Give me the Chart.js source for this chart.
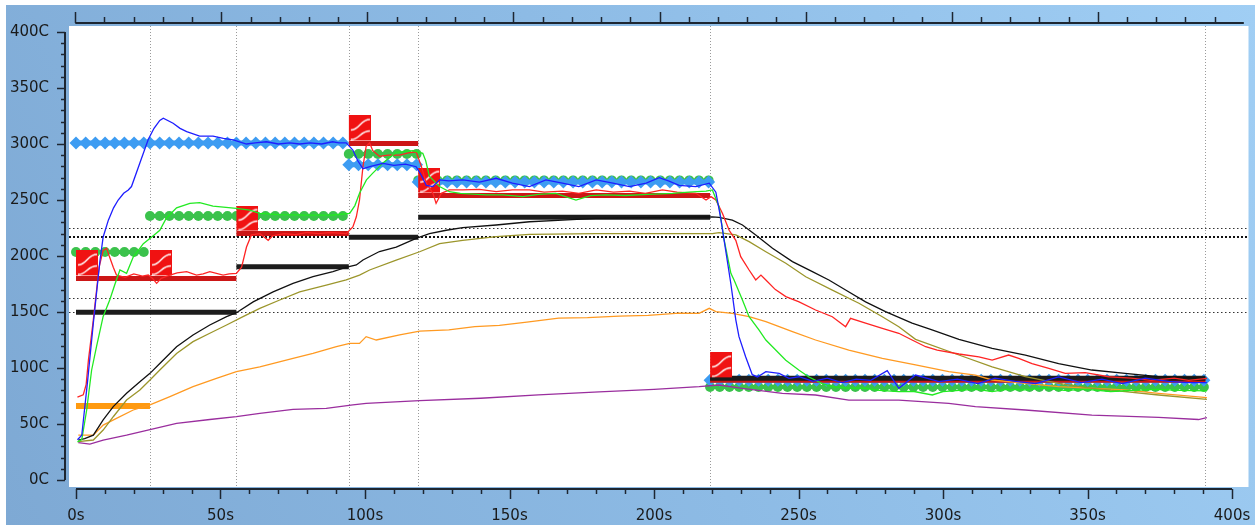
<!DOCTYPE html>
<html>
<head>
<meta charset="utf-8">
<script src="https://cdn.jsdelivr.net/npm/chart.js@4.4.1/dist/chart.umd.min.js"></script>
<style>
  html, body { margin: 0; padding: 0; background: #fff; }
  canvas { display: block; }
</style>
</head>
<body>
<canvas id="profile" width="1255" height="525"></canvas>
<script>
// zone borders (s) and setpoints per channel (C)
const zoneBounds = [0, 25.6, 55.5, 94.4, 118.4, 219.4, 390.8];
const redSet    = [180, 180, 220, 300.5, 254, 89];
const blackSet  = [149.7, 149.7, 190.5, 216.7, 234.5, 90.8];
const blueSet   = [301, 301, 301, 281.5, 266, 89];
const greenSet  = [203.5, 235.7, 235.7, 291, 267.5, 83];
const orangeSet = [66, null, null, null, null, null];
const markStep = 3.35;

// dotted limit lines (C)
const limitLines = [150, 162.5, 225];
const liquidusLine = 217;

// axis ticks
const xTicks = [0, 50, 100, 150, 200, 250, 300, 350, 400];
const yTicks = [0, 50, 100, 150, 200, 250, 300, 350, 400];

// measured curves
const blueT = [0.5, 2, 4, 6, 8.3, 9.4, 11.2, 13, 14.6, 16.5, 18.1, 19.2, 22.1, 25, 27, 29, 30.2, 33.6, 36, 38.3, 42.8, 47.4, 51, 54.4, 59, 62, 65.9, 70, 74, 77.4, 81, 85, 88.8, 91, 93.5, 95.8, 97.5, 99.3, 102, 106.2, 110, 114, 117.7, 119.5, 121.2, 123.5, 125.8, 129, 133.8, 139.6, 145.4, 151, 156.9, 162.6, 168.3, 174, 180, 185.8, 191.5, 197.3, 201.8, 205, 208.7, 214.5, 219.1, 221.4, 223, 224.8, 226.6, 228.3, 229.4, 231.7, 234, 235.8, 238.7, 243.3, 246.7, 250.2, 255, 260, 265, 270, 275, 280.7, 284.7, 290.5, 298.6, 305, 312, 318, 325, 332, 340, 348, 355, 362, 370, 378, 385, 391.3];
const blueC = [36, 40, 88, 140, 196, 217, 232, 243, 250, 256, 259, 262, 283, 304, 314, 321, 323, 318.5, 314, 311, 307, 307, 305, 303.6, 300, 301, 302, 300, 301, 300, 301, 300, 302, 301, 301, 294.6, 285, 278, 280, 282.7, 281, 282, 279.7, 272, 263, 262, 268, 267, 268, 266, 269.4, 265, 262, 268, 265, 262, 268, 265, 262, 265, 270, 267, 263, 262, 265, 257, 235, 205, 175, 143, 128, 110, 94, 92, 96.7, 95.2, 90.8, 92.2, 88, 91, 87, 90, 89, 97.6, 81.9, 93.7, 87.8, 90, 86, 91, 88, 86, 92, 87, 90, 86, 91, 88, 86.9, 87];

const greenT = [0.5, 2, 3.7, 5.4, 7.1, 9.4, 11.7, 13.5, 15.2, 17.5, 19.8, 23.3, 26.2, 29, 31.3, 34.8, 39.4, 42.8, 47.4, 55.5, 60.1, 63.6, 70, 80, 88.9, 94.7, 96.5, 98.1, 100.5, 102.7, 106.2, 110.8, 116.6, 120, 121, 122.3, 125.8, 129.2, 133, 141.9, 147.7, 154.6, 160, 166, 173, 178, 183.4, 190, 198, 206.4, 212, 218, 220.2, 222.5, 224.3, 226.6, 227.7, 230.6, 232.9, 236.3, 238.7, 241, 245.6, 250.2, 253.6, 258.2, 261.7, 267, 273.2, 278, 284.7, 290, 296.3, 300, 307.8, 312, 317, 322, 328.5, 335, 342, 350, 358, 366, 374, 382, 391.3];
const greenC = [34, 36, 62.5, 98, 119, 146, 161, 175, 187.5, 184.5, 199, 211, 217, 223, 234, 243, 247, 247.6, 244.6, 242.6, 241, 238, 237, 236.5, 236.6, 238, 245, 256, 268, 274, 283, 292.6, 294, 291.7, 285, 271, 262, 257.4, 256, 254.5, 254.5, 253, 255, 256, 250, 254, 254.5, 254, 255, 256, 257, 258, 259, 244, 214, 184.5, 178.6, 160.7, 145.8, 134, 125, 119, 107, 98, 92, 86, 83.3, 82, 81.9, 80, 78.9, 79, 75.9, 79, 80.4, 81, 78.9, 81, 80.4, 82, 80, 81, 79, 80, 81, 80, 79.5];

const redT = [0.5, 2.5, 3.5, 4.3, 6, 8, 9.4, 10.6, 11.5, 12.9, 14, 17, 20, 23, 25, 26.5, 27.9, 29.5, 32.5, 35, 38.3, 41.7, 44, 46.3, 50.9, 53, 55.5, 57.3, 59, 60.7, 63.6, 66.5, 68, 72, 76, 80, 84, 88, 93.5, 95.8, 97, 98.1, 99.3, 100.4, 101.6, 102.7, 105, 108, 112, 115, 117.7, 119.5, 121.2, 123.5, 124.6, 126.4, 129.2, 133.8, 139.6, 145.4, 151, 156.9, 162, 168.3, 174, 180, 186, 191.5, 197, 202.9, 208, 214.5, 218, 219.7, 221.4, 223.7, 226, 228.3, 230, 232.9, 235.2, 237, 238.7, 242, 245.6, 250.2, 255.9, 261.7, 266.3, 268, 273.2, 279, 284.7, 289.3, 294, 298, 305.5, 312.4, 317, 322.7, 326.2, 330.8, 336.6, 342.3, 349.2, 357.3, 365, 372, 380, 385, 391.3];
const redC = [74, 76, 85, 107, 143, 190, 205, 207, 200, 190, 183, 181, 184, 182, 183, 180, 175.6, 180, 183, 185, 186, 183, 184, 186, 183, 184, 184.5, 190, 208, 218.8, 220, 214, 218, 220, 219, 221, 220, 221, 220, 226, 235, 250, 280, 298, 301, 294, 289, 290, 290, 292, 293, 280, 265, 256, 247, 256, 259, 259, 259.5, 257.4, 259, 259, 257, 258, 256, 259, 257, 258, 256, 259, 257, 256, 250, 253, 250, 238, 223, 214, 199.4, 187.5, 178.6, 183, 178.6, 170, 163.7, 159, 151.8, 145.8, 136.9, 144.3, 140, 135.4, 131, 125, 119, 116, 112.5, 110, 107, 111.6, 108.6, 104, 99.7, 95.2, 95.8, 92.2, 91, 89, 91, 89, 90.8];

const blackT = [0.8, 3, 6, 9.4, 12.9, 17.5, 22.1, 25.6, 29, 34.8, 40.5, 46.3, 52.1, 55.5, 61.3, 68.2, 75.1, 82, 88.9, 94.1, 97, 99.3, 105, 110.8, 117.7, 122.3, 128.1, 133.8, 145.4, 156.9, 168.4, 179.9, 203, 220.2, 222.5, 227.1, 230.6, 235.2, 241, 247.9, 254.8, 260.5, 266.3, 273.2, 280.1, 289.3, 296.2, 305.5, 317, 328.5, 340, 351.5, 363, 374.6, 391.3];
const blackC = [35.7, 37, 40, 53.6, 65.5, 77.4, 87.8, 95.2, 104, 119, 129.5, 138.4, 145.8, 149.4, 159, 168, 175.6, 181.5, 186, 190.4, 192, 196.4, 204, 208, 215.8, 220, 223, 225.3, 227.7, 230.6, 232, 233.6, 234.5, 235, 234.5, 232, 227.7, 218.8, 206.9, 195, 186, 178.6, 169.6, 159, 150.3, 140, 134, 125.6, 117.6, 111.6, 104, 98.2, 95.2, 92.2, 90.8];

const oliveT = [0.8, 6, 9.4, 12.9, 17.5, 22.1, 25.6, 29, 34.8, 40.5, 46.3, 52.1, 57.8, 63.6, 70.5, 77.4, 86.6, 93.5, 98.1, 101.6, 110.8, 118.9, 125.8, 133.8, 145.4, 156.9, 180, 220.2, 222.5, 228.3, 232.9, 238.7, 245.6, 252.5, 261.7, 270.9, 279, 284.7, 290.5, 305.5, 317, 328.5, 340, 351.5, 363, 374.6, 391.3];
const oliveC = [34.2, 35.7, 44.6, 56.5, 71.4, 80.4, 89.3, 98.2, 113, 123.5, 131, 138.4, 145.8, 153.3, 160.7, 168, 174, 178.6, 183, 187.5, 196.4, 203.8, 211, 214, 217.3, 219.3, 220, 220, 220.8, 218.8, 212.8, 203.8, 193.5, 181.5, 169.6, 157.8, 145.8, 136.9, 125.6, 111.6, 101, 92.2, 86.3, 81.9, 78.9, 75.9, 72];

const orangeT = [0.8, 6, 9.4, 14, 19.8, 25.6, 32.5, 40.5, 48.6, 55.5, 63.6, 75.1, 82, 90.1, 94.7, 98.1, 100.4, 103.9, 112, 118.9, 129, 138, 146.5, 156, 167, 177, 188, 198, 208.7, 215.6, 219.1, 221.4, 227.1, 232.9, 238.7, 247.9, 255.9, 267.4, 279, 290.5, 302, 311.2, 317, 340, 363, 374.6, 391.3];
const orangeC = [40, 40, 49, 55, 62.5, 67, 74.4, 83.3, 90.8, 96.7, 101, 108.6, 113, 119, 122, 122, 128, 125, 129.5, 133, 134, 137, 138, 141, 144.6, 145, 146.4, 147, 149, 148.8, 153.3, 150.3, 148.8, 145.8, 141.4, 132.4, 125, 116, 108.6, 102.7, 96.7, 93.7, 89.3, 83.3, 80.4, 77.4, 73.5];

const purpleT = [0.8, 4.8, 9.4, 17.5, 25.6, 34.8, 46.3, 55.5, 63.6, 75.1, 86.6, 95.8, 100.4, 118.9, 140, 160, 181, 200, 215.6, 222.5, 230.6, 244.4, 255.9, 267.4, 284.7, 302, 311.2, 328.5, 351.5, 374.6, 388.4, 391.3];
const purpleC = [33.3, 32, 35.7, 40, 45, 50.6, 54, 56.5, 59.5, 63, 64, 67, 68.5, 70.8, 73, 76, 78.6, 81, 83.3, 84.8, 81.9, 77.4, 75.9, 71.4, 71.4, 68.5, 65.5, 62.5, 58, 56, 54, 55.6];

const labelFont = { family: 'DejaVu Sans', size: 15 };
const labelColor = '#1a1a1a';

function curve(ts, cs) {
    return ts.map((t, i) => ({ x: t, y: cs[i] }));
}

// one flat segment per zone
function steps(values) {
    const pts = [];
    values.forEach((v, i) => {
        if (v === null) return;
        pts.push({ x: zoneBounds[i], y: v }, { x: zoneBounds[i + 1], y: v }, { x: zoneBounds[i + 1], y: null });
    });
    return pts;
}

// setpoint sampled at the logger interval (for the marker rows)
function samples(values) {
    const pts = [];
    values.forEach((v, i) => {
        if (v === null) return;
        for (let t = zoneBounds[i]; t <= zoneBounds[i + 1] + 0.01; t += markStep) pts.push({ x: t, y: v });
        pts.push({ x: zoneBounds[i + 1], y: null });
    });
    return pts;
}

// red heater badge, its bottom-left corner sits on the point
function makeHeaterIcon() {
    const w = 22, h = 25, lift = 3;
    const c = document.createElement('canvas');
    c.width = w * 2;
    c.height = (h + lift) * 2;
    const g = c.getContext('2d');
    g.fillStyle = '#f01212';
    g.fillRect(w, 0, w, h);
    g.strokeStyle = '#ffffff';
    g.lineWidth = 1.4;
    [[0.58, 0.16], [0.96, 0.62]].forEach(([a, b]) => {
        g.beginPath();
        g.moveTo(w + 2, h * a);
        g.bezierCurveTo(w + w * 0.5, h * a, w + w * 0.5, h * b, w * 2 - 1, h * b);
        g.stroke();
    });
    return c;
}

const thin = (data, color) => ({ data, borderColor: color, borderWidth: 1.3, pointRadius: 0, fill: false });
const bar = (data, color, width) => ({ data, borderColor: color, borderWidth: width, pointRadius: 0, spanGaps: false });
const marks = (data, color, style, r, w) => ({
    data, borderColor: color, borderWidth: w, spanGaps: false,
    pointRadius: r, pointStyle: style, pointBackgroundColor: color, pointBorderWidth: 0
});

const heaterIcon = makeHeaterIcon();

// no label overflow padding, so the plot box is exactly the white area
function fixBox(size, key) {
    return s => {
        s[key] = size;
        s.paddingLeft = 0; s.paddingRight = 0; s.paddingTop = 0; s.paddingBottom = 0;
    };
}

const framePlugin = {
    id: 'frame',
    beforeDraw(chart) {
        const ctx = chart.ctx;
        const { left, top, right, bottom } = chart.chartArea;
        ctx.save();
        ctx.fillStyle = '#ffffff';
        ctx.fillRect(0, 0, chart.width, chart.height);
        const grad = ctx.createLinearGradient(6, chart.height, chart.width, 0);
        grad.addColorStop(0, '#7ea9d4');
        grad.addColorStop(0.5, '#8dbbe5');
        grad.addColorStop(1, '#a0cef4');
        ctx.fillStyle = grad;
        ctx.fillRect(6, 5, chart.width - 6, chart.height - 5);
        ctx.fillStyle = '#ffffff';
        ctx.fillRect(left, top, right - left, bottom - top);
        ctx.restore();
    },
    beforeDatasetsDraw(chart) {
        const ctx = chart.ctx;
        const { left, top, right, bottom } = chart.chartArea;
        const x = chart.scales.x, y = chart.scales.y;
        ctx.save();
        ctx.lineWidth = 1;
        ctx.strokeStyle = '#9a9a9a';
        ctx.setLineDash([1, 2]);
        zoneBounds.slice(1).forEach(t => {
            const px = Math.round(x.getPixelForValue(t)) + 0.5;
            ctx.beginPath(); ctx.moveTo(px, top); ctx.lineTo(px, bottom); ctx.stroke();
        });
        ctx.strokeStyle = '#333';
        ctx.setLineDash([1.5, 2.5]);
        limitLines.forEach(v => {
            const py = Math.round(y.getPixelForValue(v)) + 0.5;
            ctx.beginPath(); ctx.moveTo(left, py); ctx.lineTo(right, py); ctx.stroke();
        });
        ctx.strokeStyle = '#111';
        ctx.lineWidth = 2;
        ctx.setLineDash([2, 2]);
        const py = Math.round(y.getPixelForValue(liquidusLine));
        ctx.beginPath(); ctx.moveTo(left, py); ctx.lineTo(right, py); ctx.stroke();
        ctx.restore();
    },
    afterDraw(chart) {
        const ctx = chart.ctx;
        const { left, top, bottom } = chart.chartArea;
        const x = chart.scales.x, y = chart.scales.y, xt = chart.scales.xTop;
        ctx.save();
        ctx.strokeStyle = '#1d2631';
        // left axis
        const ax = left - 4;
        ctx.lineWidth = 2;
        ctx.beginPath(); ctx.moveTo(ax, y.getPixelForValue(400)); ctx.lineTo(ax, y.getPixelForValue(0)); ctx.stroke();
        ctx.lineWidth = 1.5;
        for (let v = 0; v <= 400; v += 10) {
            const py = Math.round(y.getPixelForValue(v)) + 0.5;
            const len = v % 50 === 0 ? 8 : 4;
            ctx.beginPath(); ctx.moveTo(ax - len, py); ctx.lineTo(ax, py); ctx.stroke();
        }
        // bottom axis
        const ay = bottom + 2;
        ctx.lineWidth = 2;
        ctx.beginPath(); ctx.moveTo(x.getPixelForValue(0), ay); ctx.lineTo(x.getPixelForValue(400), ay); ctx.stroke();
        ctx.lineWidth = 1.5;
        for (let v = 0; v <= 400; v += 10) {
            const px = Math.round(x.getPixelForValue(v)) + 0.5;
            const len = v % 50 === 0 ? 10 : 5;
            ctx.beginPath(); ctx.moveTo(px, ay); ctx.lineTo(px, ay + len); ctx.stroke();
        }
        // top axis
        const ty = top - 3;
        ctx.lineWidth = 2;
        ctx.beginPath(); ctx.moveTo(xt.getPixelForValue(0), ty); ctx.lineTo(xt.getPixelForValue(400), ty); ctx.stroke();
        ctx.lineWidth = 1.5;
        for (let v = 0; v < 400; v += 10) {
            const px = Math.round(xt.getPixelForValue(v)) + 0.5;
            const len = v % 50 === 0 ? 11 : 6;
            ctx.beginPath(); ctx.moveTo(px, ty); ctx.lineTo(px, ty - len); ctx.stroke();
        }
        ctx.restore();
    }
};

const ctx = document.getElementById('profile').getContext('2d');
new Chart(ctx, {
    type: 'line',
    data: {
        datasets: [
            thin(curve(blueT, blueC), '#1e1eff'),
            thin(curve(greenT, greenC), '#22ea22'),
            thin(curve(redT, redC), '#ff2424'),
            thin(curve(blackT, blackC), '#111111'),
            thin(curve(oliveT, oliveC), '#9c962c'),
            thin(curve(orangeT, orangeC), '#ff9a22'),
            thin(curve(purpleT, purpleC), '#9a2e9e'),
            {
                data: zoneBounds.slice(0, -1).map((t, i) => ({ x: t, y: redSet[i] })),
                showLine: false, pointRadius: 5, pointStyle: heaterIcon
            },
            bar(steps(blackSet), '#1c1c1c', 5),
            bar(steps(redSet), '#cc1616', 5),
            marks(samples(blueSet), '#3d9cf2', 'rectRot', 6.5, 5),
            marks(samples(greenSet), '#3bc24c', 'circle', 5, 4),
            bar(steps(orangeSet), '#ff9a10', 6)
        ]
    },
    options: {
        responsive: false,
        animation: false,
        layout: { padding: { right: 5 } },
        plugins: { legend: { display: false }, tooltip: { enabled: false } },
        elements: { line: { tension: 0 } },
        scales: {
            x: {
                type: 'linear', position: 'bottom', min: -2.42, max: 405.7,
                afterBuildTicks: s => { s.ticks = xTicks.map(v => ({ value: v })); },
                afterFit: fixBox(38, 'height'),
                grid: { display: false, drawTicks: false }, border: { display: false },
                ticks: { callback: v => v + 's', font: labelFont, color: labelColor, padding: 20, autoSkip: false, maxRotation: 0 }
            },
            xTop: {
                type: 'linear', position: 'top', min: -2.15, max: 401.6,
                afterFit: fixBox(26, 'height'),
                grid: { display: false, drawTicks: false }, border: { display: false },
                ticks: { display: false }
            },
            y: {
                type: 'linear', position: 'left', min: -6.25, max: 405.36,
                afterBuildTicks: s => { s.ticks = yTicks.map(v => ({ value: v })); },
                afterFit: fixBox(69, 'width'),
                grid: { display: false, drawTicks: false }, border: { display: false },
                ticks: { callback: v => v + 'C', font: labelFont, color: labelColor, padding: 20 }
            }
        }
    },
    plugins: [framePlugin]
});
</script>
</body>
</html>
